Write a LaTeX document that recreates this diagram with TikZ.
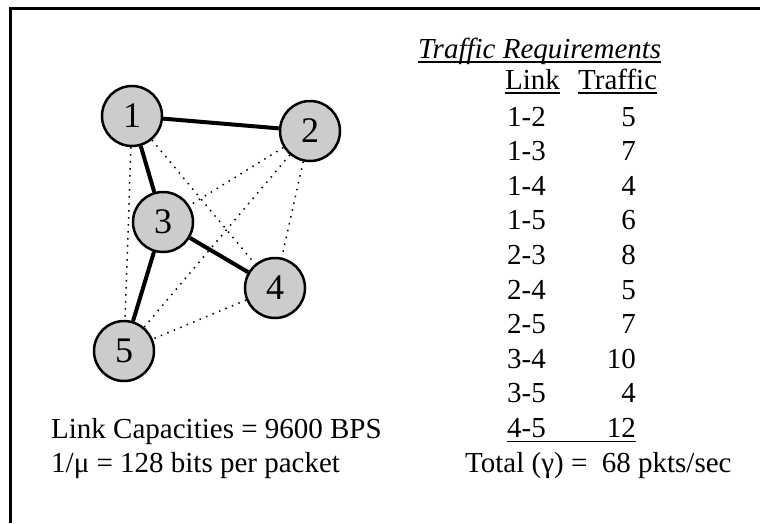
\documentclass[tikz,border=0pt]{standalone}
\usepackage{fontspec}
\setmainfont{Liberation Serif}
\begin{document}
\begin{tikzpicture}[x=1pt,y=-1pt]
\useasboundingbox (0,0) rectangle (760,523);
\tikzset{
 nd/.style={circle, draw, line width=2.5pt, fill=black!20, minimum size=60pt, inner sep=0pt, font=\fontsize{36}{36}\selectfont},
 strong/.style={line width=4pt},
 dotlink/.style={line width=1.5pt, dash pattern=on 1.5pt off 5.5pt},
 txt/.style={anchor=base west, inner sep=0pt, font=\fontsize{29}{34}\selectfont},
 numr/.style={anchor=base east, inner sep=0pt, font=\fontsize{29}{34}\selectfont},
 uline/.style={line width=1.4pt},
 frame/.style={line width=3pt}
}
% frame
\coordinate (fa) at (10,523);
\coordinate (fb) at (10,8);
\coordinate (fc) at (760,8);
\draw[frame] (fa) -- (fb) -- (fc);
% graph nodes
\node[nd] (n1) at (132,116) {1};
\node[nd] (n2) at (310,131) {2};
\node[nd] (n3) at (163,222) {3};
\node[nd] (n4) at (275,288) {4};
\node[nd] (n5) at (124,351) {5};
% links
\draw[strong] (n1) -- (n2);
\draw[strong] (n1) -- (n3);
\draw[strong] (n3) -- (n4);
\draw[strong] (n3) -- (n5);
\draw[dotlink] (n1) -- (n5);
\draw[dotlink] (n1) -- (n4);
\draw[dotlink] (n2) -- (n3);
\draw[dotlink] (n2) -- (n5);
\draw[dotlink] (n2) -- (n4);
\draw[dotlink] (n4) -- (n5);
% table
\node[txt, font=\fontsize{29}{34}\selectfont\itshape] (title) at (418,58) {Traffic Requirements};
\draw[uline] ([yshift=-4pt]title.base west) -- ([yshift=-4pt]title.base east);
\node[txt] (hlink) at (505,89) {Link};
\node[txt] (htraf) at (578,89) {Traffic};
\draw[uline] ([yshift=-4pt]hlink.base west) -- ([yshift=-4pt]hlink.base east);
\draw[uline] ([yshift=-4pt]htraf.base west) -- ([yshift=-4pt]htraf.base east);
\foreach \l/\t [count=\i from 0] in {1-2/5,1-3/7,1-4/4,1-5/6,2-3/8,2-4/5,2-5/7,3-4/10,3-5/4,4-5/12}{
  \node[txt] (l\i) at (507,{126+34.6*\i}) {\l};
  \node[numr] (t\i) at (636,{126+34.6*\i}) {\t};
}
\draw[uline] ([yshift=-4pt]l9.base west) -- ([yshift=-4pt]t9.base east);
\node[txt] (tot) at (465,472) {Total (γ) =~ 68 pkts/sec};
% bottom-left text
\node[txt] (cap) at (51,438) {Link Capacities = 9600 BPS};
\node[txt] (mu) at (51,472) {1/μ = 128 bits per packet};
\end{tikzpicture}
\end{document}
